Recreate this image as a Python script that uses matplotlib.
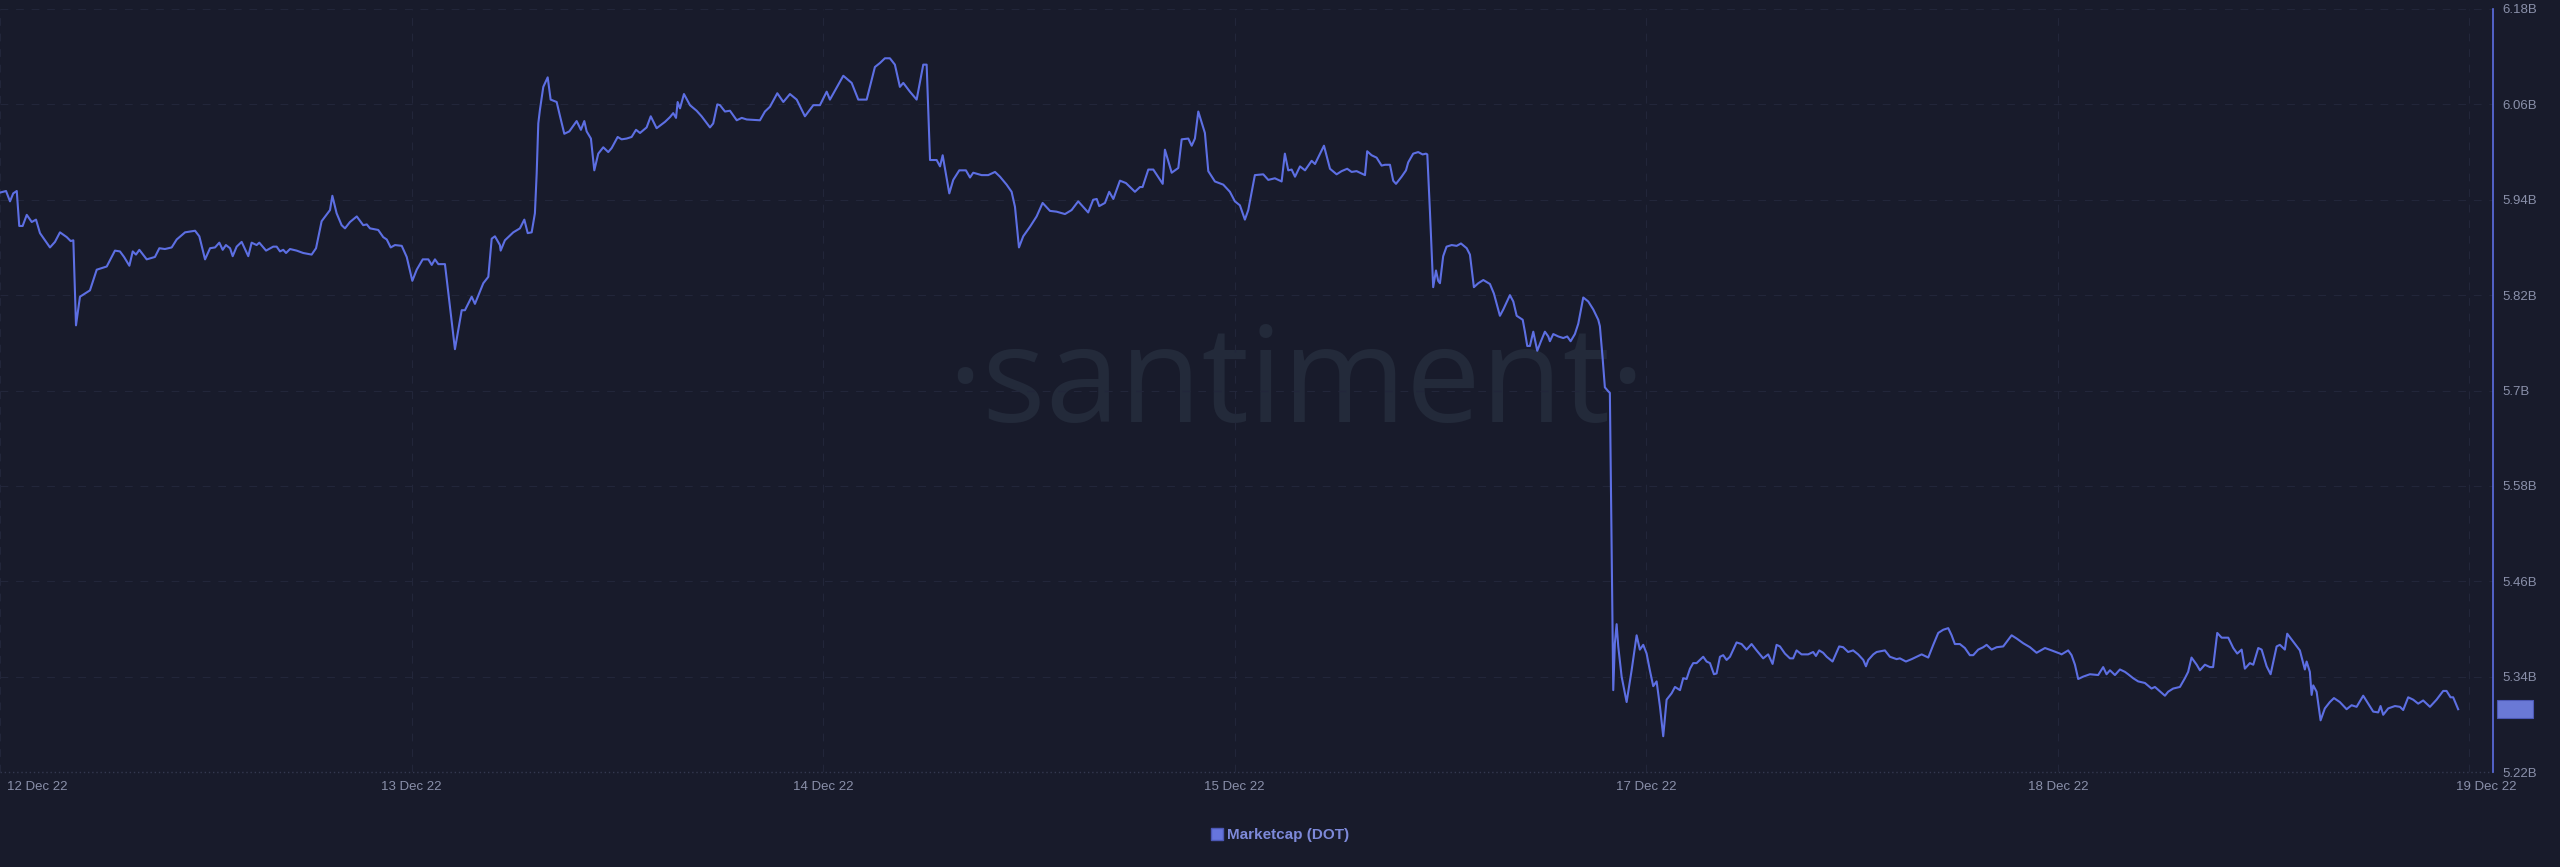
import numpy as np
import matplotlib
matplotlib.use('Agg')
import matplotlib.pyplot as plt
from matplotlib.lines import Line2D
from matplotlib.patches import Rectangle
from matplotlib.transforms import blended_transform_factory

plt.rcParams['font.family'] = ['Liberation Sans', 'DejaVu Sans']

# hours since 12 Dec 22 10:00
hours = [
    0.00, 0.41, 0.68, 0.90, 1.14, 1.31, 1.54, 1.82, 2.16, 2.45,
    2.72, 3.40, 3.74, 4.08, 4.54, 4.81, 4.99, 5.17, 5.44, 5.78,
    6.12, 6.58, 7.26, 7.82, 8.16, 8.44, 8.80, 9.03, 9.25, 9.48,
    9.98, 10.54, 10.84, 11.22, 11.68, 12.02, 12.59, 13.27, 13.56, 13.95,
    14.29, 14.63, 14.92, 15.15, 15.37, 15.65, 15.83, 16.10, 16.44, 16.89,
    17.12, 17.46, 17.64, 18.10, 18.59, 18.82, 19.05, 19.27, 19.46, 19.73,
    20.18, 20.63, 21.20, 21.50, 21.88, 22.45, 22.61, 22.90, 23.24, 23.47,
    23.81, 24.27, 24.71, 24.95, 25.17, 25.73, 26.07, 26.31, 26.58, 26.87,
    27.33, 27.67, 28.05, 28.35, 28.76, 29.14, 29.37, 29.59, 29.82, 30.27,
    30.95, 31.41, 31.63, 32.09, 32.31, 32.88, 33.22, 33.45, 33.67, 34.01,
    34.06, 34.35, 34.92, 35.37, 35.67, 35.90, 36.17, 36.39, 36.51, 36.62,
    36.73, 36.96, 37.26, 37.46, 37.87, 38.10, 38.39, 38.73, 39.23, 39.52,
    39.75, 39.91, 40.20, 40.43, 40.70, 41.04, 41.38, 41.61, 42.02, 42.29,
    42.63, 42.97, 43.27, 43.54, 43.99, 44.27, 44.67, 45.24, 45.58, 45.80,
    45.99, 46.10, 46.26, 46.53, 46.94, 47.39, 47.73, 48.30, 48.52, 48.80,
    48.98, 49.32, 49.66, 50.12, 50.46, 50.80, 51.70, 52.04, 52.38, 52.88,
    53.29, 53.74, 54.20, 54.76, 55.33, 55.78, 56.24, 56.46, 57.37, 57.94,
    58.39, 58.96, 59.18, 59.52, 59.86, 60.20, 60.54, 60.88, 61.22, 61.45,
    61.90, 62.36, 62.81, 63.04, 63.27, 63.72, 63.95, 64.13, 64.58, 64.85,
    65.26, 65.71, 65.99, 66.21, 66.78, 67.23, 67.69, 68.03, 68.48, 68.82,
    69.05, 69.32, 69.61, 70.07, 70.52, 70.93, 71.43, 71.88, 72.45, 72.90,
    73.35, 73.69, 74.03, 74.37, 74.61, 74.78, 75.17, 75.46, 75.74, 76.19,
    76.60, 77.21, 77.55, 77.73, 78.12, 78.46, 79.10, 79.25, 79.71, 80.16,
    80.39, 80.84, 81.07, 81.29, 81.52, 81.97, 82.20, 82.65, 83.22, 83.67,
    84.01, 84.35, 84.69, 84.92, 85.37, 85.94, 86.28, 86.73, 87.19, 87.41,
    87.64, 87.87, 88.10, 88.44, 88.78, 89.23, 89.46, 90.07, 90.48, 90.93,
    91.27, 91.65, 91.95, 92.29, 92.86, 93.01, 93.31, 93.65, 93.99, 94.22,
    94.56, 94.78, 94.97, 95.35, 95.65, 95.80, 96.14, 96.48, 96.78, 97.01,
    97.10, 97.28, 97.50, 97.69, 97.84, 97.96, 98.18, 98.41, 98.76, 99.10,
    99.39, 99.78, 100.00, 100.27, 100.57, 100.91, 101.36, 101.63, 102.04, 102.27,
    102.72, 102.95, 103.18, 103.59, 103.74, 103.90, 104.08, 104.31, 104.58, 104.81,
    105.10, 105.33, 105.44, 105.67, 106.01, 106.35, 106.62, 106.85, 107.14, 107.37,
    107.71, 108.05, 108.39, 108.73, 108.84, 109.03, 109.18, 109.41, 109.52,
    109.75, 109.86, 109.98, 110.09, 110.32, 110.66, 111.00, 111.34, 111.56, 111.79,
    112.02, 112.24, 112.47, 112.70, 112.93, 113.15, 113.38, 113.72, 113.95, 114.29,
    114.51, 114.74, 114.97, 115.19, 115.42, 115.87, 116.10, 116.33, 116.60, 116.78,
    117.01, 117.23, 117.46, 117.69, 118.14, 118.48, 118.82, 119.16, 119.50, 119.95,
    120.29, 120.59, 120.86, 121.09, 121.43, 121.77, 121.99, 122.22, 122.56, 123.01,
    123.35, 123.54, 123.76, 124.03, 124.27, 124.67, 125.12, 125.39, 125.73, 126.07,
    126.41, 126.76, 126.94, 127.10, 127.44, 127.67, 128.23, 128.57, 129.03, 129.25,
    129.66, 130.05, 130.39, 130.73, 131.18, 131.52, 131.86, 132.20, 132.54, 132.77,
    132.99, 133.33, 133.67, 134.01, 134.24, 134.58, 134.92, 135.15, 135.49, 135.83,
    136.28, 136.85, 137.19, 137.64, 138.10, 138.55, 139.12, 139.57, 140.14, 140.25,
    140.70, 140.93, 141.16, 141.38, 141.72, 142.18, 142.74, 143.08, 143.31, 143.54,
    143.88, 144.22, 144.56, 144.78, 145.12, 145.46, 145.92, 146.37, 146.60, 147.28,
    147.50, 147.84, 148.30, 148.64, 148.86, 149.09, 149.44, 149.66, 150.00, 150.34,
    150.56, 150.84, 151.14, 151.59, 151.93, 152.20, 152.50, 152.72, 153.06, 153.29,
    153.63, 153.86, 154.20, 154.47, 154.88, 155.10, 155.44, 155.60, 156.01, 156.46,
    156.69, 156.80, 156.92, 157.14, 157.26, 157.37, 157.60, 157.87, 158.16, 158.50,
    158.78, 159.18, 159.64, 159.98, 160.32, 160.77, 161.11, 161.45, 161.79, 161.95,
    162.13, 162.47, 162.93, 163.27, 163.49, 163.83, 164.17, 164.51, 164.85, 165.31,
    165.76, 166.21, 166.44, 166.71, 166.89, 167.23,
]

# DOT marketcap, billions USD
mcap_b = [
    5.949, 5.951, 5.938, 5.948, 5.951, 5.907, 5.907, 5.921, 5.912, 5.915,
    5.898, 5.880, 5.887, 5.899, 5.893, 5.888, 5.889, 5.782, 5.818, 5.822,
    5.826, 5.852, 5.856, 5.876, 5.875, 5.868, 5.857, 5.875, 5.871, 5.877,
    5.865, 5.868, 5.879, 5.878, 5.880, 5.890, 5.899, 5.901, 5.894, 5.865,
    5.879, 5.880, 5.886, 5.877, 5.883, 5.879, 5.869, 5.881, 5.887, 5.869,
    5.886, 5.883, 5.886, 5.876, 5.881, 5.881, 5.875, 5.877, 5.873, 5.878,
    5.876, 5.873, 5.871, 5.879, 5.913, 5.927, 5.945, 5.923, 5.908, 5.904,
    5.912, 5.919, 5.908, 5.909, 5.904, 5.902, 5.893, 5.890, 5.880, 5.883,
    5.882, 5.868, 5.838, 5.852, 5.865, 5.865, 5.858, 5.865, 5.859, 5.859,
    5.752, 5.801, 5.801, 5.818, 5.809, 5.835, 5.843, 5.891, 5.894, 5.883,
    5.876, 5.889, 5.899, 5.904, 5.915, 5.898, 5.899, 5.923, 5.973, 6.036,
    6.053, 6.082, 6.094, 6.066, 6.063, 6.045, 6.023, 6.026, 6.039, 6.028,
    6.039, 6.026, 6.017, 5.977, 5.998, 6.006, 6.000, 6.005, 6.019, 6.016,
    6.017, 6.019, 6.028, 6.024, 6.031, 6.045, 6.030, 6.038, 6.044, 6.049,
    6.043, 6.063, 6.055, 6.073, 6.059, 6.052, 6.045, 6.031, 6.036, 6.060,
    6.059, 6.051, 6.052, 6.040, 6.043, 6.041, 6.040, 6.051, 6.057, 6.074,
    6.063, 6.073, 6.066, 6.045, 6.059, 6.059, 6.076, 6.066, 6.096, 6.087,
    6.066, 6.066, 6.082, 6.107, 6.112, 6.118, 6.118, 6.110, 6.082, 6.087,
    6.076, 6.066, 6.110, 6.110, 5.990, 5.990, 5.982, 5.996, 5.948, 5.965,
    5.977, 5.977, 5.968, 5.974, 5.971, 5.971, 5.975, 5.969, 5.959, 5.950,
    5.931, 5.880, 5.894, 5.906, 5.919, 5.936, 5.926, 5.925, 5.922, 5.927,
    5.938, 5.931, 5.924, 5.940, 5.941, 5.932, 5.936, 5.950, 5.941, 5.964,
    5.961, 5.950, 5.956, 5.956, 5.978, 5.978, 5.960, 6.003, 5.974, 5.980,
    6.016, 6.017, 6.008, 6.017, 6.051, 6.024, 5.976, 5.963, 5.959, 5.950,
    5.938, 5.933, 5.915, 5.927, 5.971, 5.972, 5.965, 5.967, 5.963, 5.998,
    5.977, 5.978, 5.969, 5.982, 5.977, 5.989, 5.985, 6.008, 5.979, 5.972,
    5.976, 5.979, 5.975, 5.976, 5.971, 6.001, 5.996, 5.993, 5.983, 5.984,
    5.984, 5.964, 5.960, 5.969, 5.977, 5.987, 5.998, 6.000, 5.997, 5.998,
    5.997, 5.925, 5.830, 5.851, 5.838, 5.835, 5.869, 5.881, 5.883, 5.882,
    5.885, 5.879, 5.871, 5.830, 5.835, 5.839, 5.834, 5.822, 5.794, 5.802,
    5.820, 5.812, 5.794, 5.789, 5.774, 5.756, 5.756, 5.774, 5.750, 5.761,
    5.774, 5.768, 5.762, 5.771, 5.768, 5.766, 5.768, 5.762, 5.771, 5.784,
    5.817, 5.812, 5.802, 5.789, 5.781, 5.740, 5.704, 5.699, 5.697,
    5.323, 5.382, 5.406, 5.378, 5.340, 5.308, 5.348, 5.392, 5.374, 5.380,
    5.369, 5.348, 5.328, 5.334, 5.302, 5.265, 5.311, 5.319, 5.327, 5.323,
    5.338, 5.337, 5.350, 5.357, 5.357, 5.365, 5.359, 5.357, 5.343, 5.344,
    5.365, 5.367, 5.361, 5.365, 5.383, 5.381, 5.374, 5.381, 5.373, 5.363,
    5.368, 5.356, 5.380, 5.378, 5.369, 5.363, 5.363, 5.373, 5.368, 5.368,
    5.371, 5.366, 5.373, 5.370, 5.365, 5.359, 5.378, 5.377, 5.371, 5.373,
    5.368, 5.361, 5.353, 5.361, 5.368, 5.371, 5.373, 5.365, 5.362, 5.363,
    5.359, 5.362, 5.365, 5.368, 5.364, 5.380, 5.395, 5.399, 5.401, 5.392,
    5.381, 5.381, 5.376, 5.367, 5.367, 5.374, 5.377, 5.380, 5.374, 5.377,
    5.378, 5.392, 5.388, 5.382, 5.377, 5.370, 5.376, 5.373, 5.369, 5.368,
    5.373, 5.367, 5.355, 5.337, 5.340, 5.343, 5.342, 5.352, 5.343, 5.348,
    5.342, 5.349, 5.346, 5.343, 5.338, 5.334, 5.332, 5.325, 5.327, 5.316,
    5.321, 5.325, 5.327, 5.338, 5.346, 5.364, 5.355, 5.348, 5.355, 5.352,
    5.352, 5.395, 5.389, 5.389, 5.376, 5.369, 5.374, 5.350, 5.357, 5.355,
    5.376, 5.374, 5.353, 5.343, 5.378, 5.380, 5.374, 5.394, 5.384, 5.373,
    5.357, 5.349, 5.359, 5.346, 5.317, 5.329, 5.321, 5.285, 5.300, 5.308,
    5.313, 5.308, 5.299, 5.304, 5.302, 5.316, 5.306, 5.296, 5.295, 5.303,
    5.292, 5.300, 5.303, 5.302, 5.298, 5.314, 5.311, 5.306, 5.310, 5.302,
    5.311, 5.322, 5.322, 5.314, 5.314, 5.299,
]
assert len(hours) == len(mcap_b)

x_tick_hours = [0, 28, 56, 84, 112, 140, 168]
x_tick_labels = ['12 Dec 22', '13 Dec 22', '14 Dec 22', '15 Dec 22',
                 '17 Dec 22', '18 Dec 22', '19 Dec 22']
y_ticks = [5.22, 5.34, 5.46, 5.58, 5.70, 5.82, 5.94, 6.06, 6.18]

BG = '#181b2b'
LINE = '#5d6fe3'
GRID = '#22263a'
TXT = '#8a90aa'

fig = plt.figure(figsize=(25.6, 8.67), dpi=100, facecolor=BG)
ax = fig.add_axes([0, 0.10957, 0.97383, 0.88005], facecolor=BG)

# watermark
ax.text(0.5198, 0.4591, '\u00b7santiment\u00b7', transform=ax.transAxes,
        ha='center', va='baseline', fontsize=96, family='Open Sans',
        fontweight='normal', color='#232a3a', zorder=0.5)

ax.plot(hours, mcap_b, color=LINE, lw=1.5, zorder=3)

ax.set_xlim(0, 169.6)
ax.set_ylim(5.22, 6.18)

ax.set_axisbelow(True)
ax.grid(True, color=GRID, lw=0.8, ls=(0, (7, 7)))
ax.axhline(5.22, color='#343950', lw=1, ls=(0, (1, 2)), clip_on=False, zorder=1)

for side in ['top', 'left', 'bottom']:
    ax.spines[side].set_visible(False)
ax.spines['right'].set_color(LINE)
ax.spines['right'].set_linewidth(1.2)

ax.yaxis.tick_right()
ax.set_yticks(y_ticks)
ax.set_yticklabels([f'{v:g}B' for v in y_ticks])
ax.tick_params(axis='y', length=0, pad=6.5, labelsize=9.5, labelcolor=TXT)

ax.set_xticks(x_tick_hours)
ax.set_xticklabels([])
ax.tick_params(axis='x', length=0)

# x labels drawn by hand so the outer ones can sit inside the frame
n = len(x_tick_hours)
for i, (h, lab) in enumerate(zip(x_tick_hours, x_tick_labels)):
    if i == 0:
        ha, dx = 'left', 5
    elif i == n - 1:
        ha, dx = 'center', 12
    else:
        ha, dx = 'center', 0
    ax.annotate(lab, xy=(h, 0), xycoords=('data', 'axes fraction'),
                xytext=(dx, -11), textcoords='offset points',
                ha=ha, va='center', fontsize=9.5, color=TXT,
                annotation_clip=False)

# last value box on the axis
trans = blended_transform_factory(ax.transAxes, ax.transData)
box_h = 0.0226
ax.add_patch(Rectangle((1.0016, mcap_b[-1] - box_h / 2), 0.0144, box_h,
                       transform=trans, clip_on=False, facecolor='#6a79d6',
                       edgecolor='#4c58b5', lw=0.8, zorder=5))

handle = Line2D([], [], ls='', marker='s', markersize=8,
                markerfacecolor='#6675dd', markeredgecolor='#4c58b5')
leg = fig.legend([handle], ['Marketcap (DOT)'], loc='center',
                 bbox_to_anchor=(0.5, 1 - 835 / 867), frameon=False,
                 handletextpad=0.3, handlelength=0.8,
                 prop={'family': 'Liberation Sans', 'weight': 'bold', 'size': 11})
for t in leg.get_texts():
    t.set_color('#7d89d9')

fig.savefig('out.png', dpi=100, facecolor=BG)
